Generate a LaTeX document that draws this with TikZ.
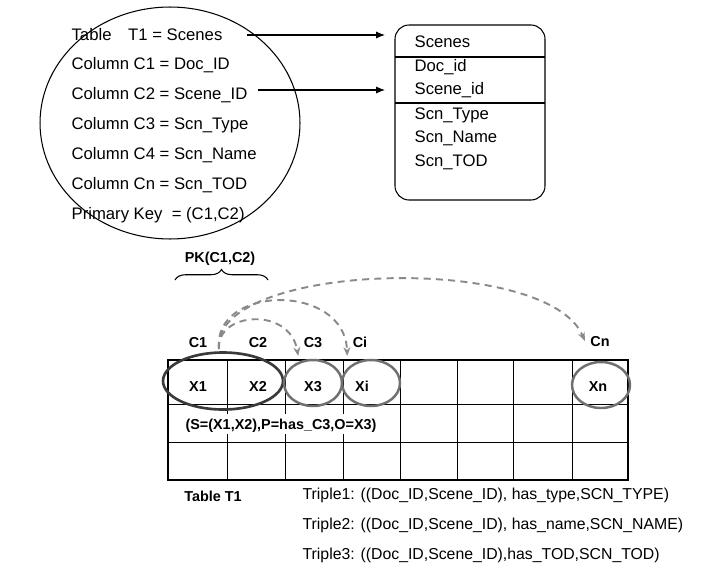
\documentclass[tikz,border=0pt]{standalone}
\usepackage{fontspec}
\setmainfont{Liberation Sans}
\usetikzlibrary{arrows.meta,decorations.pathreplacing}

\definecolor{linkgray}{HTML}{8A8A8A}
\definecolor{ringgray}{HTML}{707070}
\definecolor{pkgray}{HTML}{3A3A3A}

\tikzset{
  arr/.style={line width=0.6pt,-{Latex[length=5pt,width=4pt]}},
  lbl/.style={font=\fontsize{8.2}{9}\selectfont\bfseries,text height=1.6ex,text depth=0.4ex},
  defn/.style={anchor=west,font=\fontsize{9.5}{11}\selectfont},
  link/.style={draw=linkgray,line width=1.1pt,dash pattern=on 4pt off 3pt,-{Stealth[length=5pt,width=4pt]}},
  ring/.style={draw=ringgray,line width=1.4pt},
}

\begin{document}
\begin{tikzpicture}[x=0.02cm,y=-0.02cm]
\useasboundingbox (0,0) rectangle (722,571);
{\fontsize{9}{11}\selectfont

% Drawing ellipse of table T1
\draw [line width=0.6pt] (170,123) ellipse [x radius=2.6cm, y radius=2.32cm];

% Marking the definitions
\node [defn] (tbl) at (66,35) {Table\quad T1 = Scenes};
\node [defn] (colA) at (66,65) {Column C1 = Doc\_ID};
\node [defn] (colB) at (66,95) {Column C2 = Scene\_ID};
\node [defn] (colC) at (66,125) {Column C3 = Scn\_Type};
\node [defn] (colD) at (66,155) {Column C4 = Scn\_Name};
\node [defn] (colN) at (66,185) {Column Cn = Scn\_TOD};
\node [defn] (pkey) at (66,215) {Primary Key\ \ = (C1,C2)};

% Drawing entity box Scenes
\draw [line width=0.6pt,rounded corners=8pt] (395,25) rectangle (545,200);
\draw [line width=0.6pt] (395,57) -- (545,57);
\draw [line width=0.6pt] (395,103) -- (545,103);
\node [defn] (ename) at (409,42) {Scenes};
\node [defn] (edoc) at (409,67) {Doc\_id};
\node [defn] (escene) at (409,90) {Scene\_id};
\node [defn] (etype) at (409,115) {Scn\_Type};
\node [defn] (ename2) at (409,138) {Scn\_Name};
\node [defn] (etod) at (409,162) {Scn\_TOD};

% Drawing arrows tbl -> ename, colB -> escene
\draw [arr,shorten <=0.38cm,shorten >=0.48cm] (tbl.east) -- (tbl.east -| ename.west);
\draw [arr,shorten <=0.1cm,shorten >=0.48cm] (colB.east |- escene.west) -- (escene.west);

% Drawing grid of table T1
\draw [line width=0.8pt] (168,360) rectangle (628,480);
\draw [line width=0.5pt] (168,404) -- (628,404);
\draw [line width=0.5pt] (168,442) -- (628,442);
\foreach \xc in {227,285,343,400,457,513,572}
  \draw [line width=0.5pt] (\xc,360) -- (\xc,480);

% Marking row text
\node [fill=white,inner sep=1pt,lbl] (spo) at (281,424) {(S=(X1,X2),P=has\_C3,O=X3)};

% Marking column labels
\node [lbl] (c1) at (198,342) {C1};
\node [lbl] (c2) at (258,342) {C2};
\node [lbl] (c3) at (313,342) {C3};
\node [lbl] (ci) at (360,342) {Ci};
\node [lbl] (cn) at (600,341) {Cn};

% Marking values
\node [lbl] (x1) at (198,386) {X1};
\node [lbl] (x2) at (258,386) {X2};
\node [lbl] (x3) at (313,386) {X3};
\node [lbl] (xi) at (362,386) {Xi};
\node [lbl] (xn) at (598,386) {Xn};

% Drawing rings round values
\draw [draw=pkgray,line width=1.5pt] (223,381) ellipse [x radius=1.2cm, y radius=0.57cm];
\draw [ring] (313,383) ellipse [x radius=0.58cm, y radius=0.46cm];
\draw [ring] (371,383) ellipse [x radius=0.58cm, y radius=0.46cm];
\draw [ring] (601,385) ellipse [x radius=0.58cm, y radius=0.46cm];

% Marking primary key brace
\node [lbl] (pk) at (220,257) {PK(C1,C2)};
\draw [line width=0.6pt,decorate,decoration={brace,amplitude=6pt}] (175,280) -- (268,280);

% Drawing dashed links from C1
\coordinate (src) at (219,349);
\draw [link] (src) .. controls (216,312) and (290,306) .. (c3.south west);
\draw [link] (src) .. controls (212,285) and (345,282) .. (ci.south west);
\draw [link] (src) .. controls (210,262) and (548,252) .. (cn.west);

% Marking caption and triples
\node [lbl] (cap) at (213,496) {Table T1};
\node [anchor=west] (tr1) at (297,495) {Triple1: ((Doc\_ID,Scene\_ID), has\_type,SCN\_TYPE)};
\node [anchor=west] (tr2) at (297,525) {Triple2: ((Doc\_ID,Scene\_ID), has\_name,SCN\_NAME)};
\node [anchor=west] (tr3) at (297,555) {Triple3: ((Doc\_ID,Scene\_ID),has\_TOD,SCN\_TOD)};
}
\end{tikzpicture}
\end{document}
